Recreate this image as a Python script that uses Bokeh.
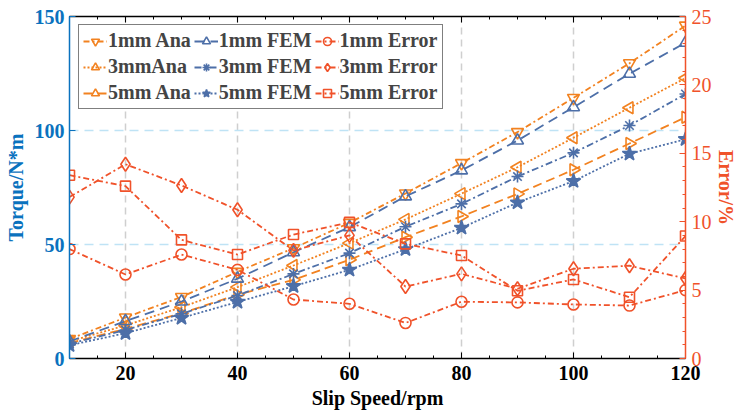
import math
from bokeh.plotting import figure
from bokeh.models import (Range1d, LinearAxis, Legend, LegendItem, FixedTicker,
                          SingleIntervalTicker, ColumnDataSource, Title)
from bokeh.embed import file_html
from bokeh.resources import INLINE

speed = [10, 20, 30, 40, 50, 60, 70, 80, 90, 100, 110, 120]

ana_1mm = [8.5, 18.0, 27.0, 38.0, 48.4, 59.5, 72.4, 85.7, 99.3, 114.3, 129.5, 146.0]
fem_1mm = [7.5, 16.4, 25.0, 35.0, 46.6, 57.6, 71.1, 82.5, 95.6, 110.2, 124.9, 138.5]
ana_3mm = [7.5, 14.5, 22.5, 31.3, 40.8, 50.6, 61.0, 72.3, 83.9, 96.8, 110.0, 123.0]
fem_3mm = [6.5, 12.5, 19.6, 27.6, 37.1, 46.2, 57.8, 67.8, 79.8, 90.2, 102.2, 116.0]
ana_5mm = [6.8, 13.0, 19.8, 28.0, 34.5, 43.3, 53.2, 62.3, 72.2, 82.8, 94.3, 105.8]
fem_5mm = [5.8, 11.1, 17.8, 24.8, 31.7, 38.9, 47.9, 57.3, 68.4, 77.8, 89.8, 96.2]

err_1mm = [8.0, 6.14, 7.6, 6.48, 4.31, 4.0, 2.6, 4.15, 4.1, 3.95, 3.87, 5.0]
err_3mm = [11.8, 14.2, 12.65, 10.87, 7.9, 9.0, 5.26, 6.19, 5.1, 6.56, 6.78, 5.85]
err_5mm = [13.4, 12.6, 8.67, 7.6, 9.06, 9.95, 8.38, 7.53, 4.95, 5.78, 4.48, 8.95]

x_ticks = [20, 40, 60, 80, 100, 120]
torque_ticks = [0, 50, 100, 150]
err_ticks = [0, 5, 10, 15, 20, 25]

C_ANA = "#F28220"
C_FEM = "#4D6FA8"
C_ERR = "#F0522A"
C_LEFT = "#0A72BE"
FONT = "Liberation Serif"
FS = "20px"

p = figure(width=738, height=413, output_backend="svg", toolbar_location=None,
           x_range=Range1d(10, 120), y_range=Range1d(0, 150),
           min_border_left=69, min_border_right=53, min_border_top=16,
           min_border_bottom=55)
p.outline_line_color = None
p.background_fill_color = "white"
p.extra_y_ranges = {"err": Range1d(0, 25)}

# grids
p.xgrid.ticker = FixedTicker(ticks=[t for t in x_ticks if t < 120])
p.xgrid.grid_line_color = "#cfcfcf"
p.xgrid.grid_line_dash = "7 5"
p.xgrid.grid_line_width = 1.5
p.ygrid.ticker = FixedTicker(ticks=[t for t in torque_ticks if 0 < t < 150])
p.ygrid.grid_line_color = "#bfe3f5"
p.ygrid.grid_line_dash = "9 6"
p.ygrid.grid_line_width = 1.5

# bottom axis
xa = p.xaxis[0]
xa.ticker = SingleIntervalTicker(interval=20, num_minor_ticks=4)
xa.axis_label = "Slip Speed/rpm"
xa.axis_line_color = "black"
xa.axis_line_width = 1.5
xa.major_tick_in = 6
xa.major_tick_out = 0
xa.minor_tick_in = 3
xa.minor_tick_out = 0
xa.major_tick_line_color = "black"
xa.minor_tick_line_color = "black"
xa.major_label_text_font = FONT
xa.major_label_text_font_style = "bold"
xa.major_label_text_font_size = FS
xa.major_label_text_color = "black"
xa.axis_label_text_font = FONT
xa.axis_label_text_font_style = "bold"
xa.axis_label_text_font_size = FS
xa.axis_label_text_color = "black"
xa.major_label_standoff = 7
xa.axis_label_standoff = 4

# top axis (mirror ticks, no labels)
top = LinearAxis(ticker=SingleIntervalTicker(interval=20, num_minor_ticks=4))
top.axis_line_color = "black"
top.axis_line_width = 1.5
top.major_tick_in = 6
top.major_tick_out = 0
top.minor_tick_in = 3
top.minor_tick_out = 0
top.major_label_overrides = {t: "" for t in x_ticks}
top.major_label_text_font_size = "8px"
top.major_label_text_color = None
top.major_label_standoff = 0
p.add_layout(top, "above")

# left axis
ya = p.yaxis[0]
ya.ticker = FixedTicker(ticks=torque_ticks)
ya.axis_label = "Torque/N*m"
ya.axis_line_color = C_LEFT
ya.axis_line_width = 1.5
ya.major_tick_in = 6
ya.major_tick_out = 0
ya.minor_tick_line_color = None
ya.major_tick_line_color = C_LEFT
ya.major_label_text_font = FONT
ya.major_label_text_font_style = "bold"
ya.major_label_text_font_size = FS
ya.major_label_text_color = C_LEFT
ya.axis_label_text_font = FONT
ya.axis_label_text_font_style = "bold"
ya.axis_label_text_font_size = FS
ya.axis_label_text_color = C_LEFT
ya.major_label_standoff = 5
ya.axis_label_standoff = 5

# right axis
ra = LinearAxis(y_range_name="err",
                ticker=SingleIntervalTicker(interval=5, num_minor_ticks=5))
ra.axis_line_color = C_ERR
ra.axis_line_width = 1.5
ra.major_tick_in = 6
ra.major_tick_out = 0
ra.minor_tick_in = 3
ra.minor_tick_out = 0
ra.major_tick_line_color = C_ERR
ra.minor_tick_line_color = C_ERR
ra.major_label_text_font = FONT
ra.major_label_text_font_style = "normal"
ra.major_label_text_font_size = FS
ra.major_label_text_color = C_ERR
ra.major_label_standoff = 6
p.add_layout(ra, "right")

err_title = Title(text="Error/%", align="center", text_font=FONT,
                  text_font_style="bold", text_font_size=FS,
                  text_color=C_ERR, standoff=0, offset=0)
p.add_layout(err_title, "right")

series = [
    ("1mm Ana", ana_1mm, C_ANA, "6 3 2 3", "inverted_triangle", 0, False, "default"),
    ("3mmAna", ana_3mm, C_ANA, "2 2", "triangle", math.pi / 2, False, "default"),
    ("5mm Ana", ana_5mm, C_ANA, "9 5", "triangle", -math.pi / 2, False, "default"),
    ("1mm FEM", fem_1mm, C_FEM, "10 6", "triangle", 0, False, "default"),
    ("3mm FEM", fem_3mm, C_FEM, "7 3 2 3", "asterisk", 0, False, "default"),
    ("5mm FEM", fem_5mm, C_FEM, "2 2", "star", 0, True, "default"),
    ("1mm Error", err_1mm, C_ERR, "6 3 2 3", "circle", 0, False, "err"),
    ("3mm Error", err_3mm, C_ERR, "6 3 2 3", "diamond", 0, False, "err"),
    ("5mm Error", err_5mm, C_ERR, "6 3 2 3", "square", 0, False, "err"),
]

items = []
for name, vals, col, dash, mk, ang, filled, yr in series:
    src = ColumnDataSource(dict(x=speed, y=vals))
    ln = p.line("x", "y", source=src, line_color=col, line_width=1.8,
                line_dash=dash, y_range_name=yr)
    sz = {"star": 15, "circle": 11, "square": 10, "diamond": 14}.get(mk, 12)
    sc = p.scatter("x", "y", source=src, marker=mk, size=sz, angle=ang,
                   line_color=col, line_width=1.6,
                   fill_color=col if filled else None, y_range_name=yr)
    items.append(LegendItem(label=name, renderers=[ln, sc]))

leg = Legend(items=items, orientation="vertical", nrows=3,
             location=(9, 342 - 12 - 81))
leg.border_line_color = "black"
leg.border_line_width = 1.5
leg.background_fill_color = "white"
leg.background_fill_alpha = 1
leg.label_text_font = FONT
leg.label_text_font_style = "bold"
leg.label_text_font_size = FS
leg.glyph_width = 24
leg.glyph_height = 20
leg.label_height = 23
leg.label_standoff = 1
leg.spacing = 3
leg.padding = 4
leg.margin = 0
p.add_layout(leg, "center")

open("out.html", "w").write(file_html(p, INLINE))
